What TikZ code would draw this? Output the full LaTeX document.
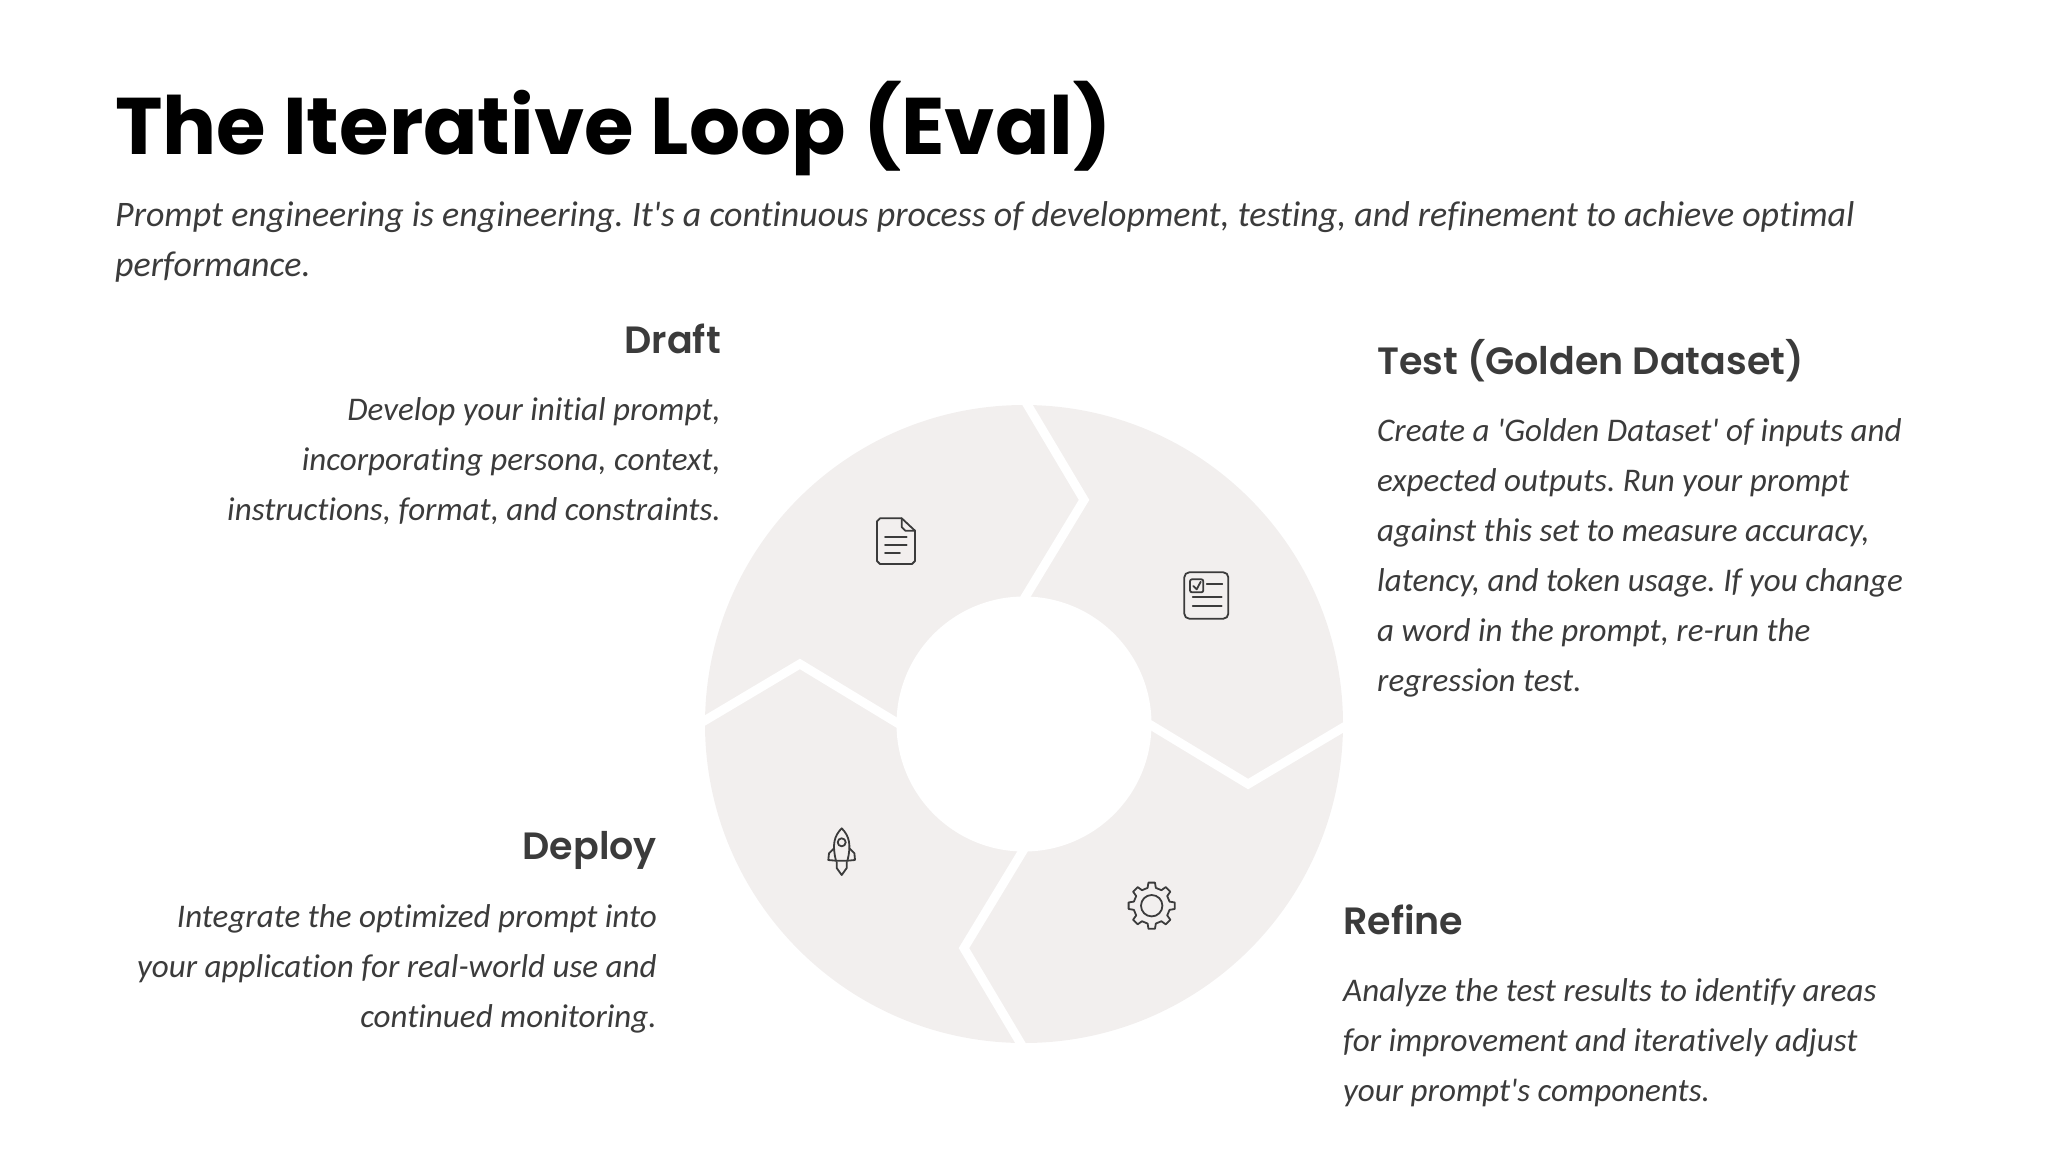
\documentclass[tikz,border=0pt]{standalone}
\usepackage{fontspec}
\setmainfont{Carlito}[Ligatures={TeXOff,NoCommon}]
\newfontfamily\titlefont{Poppins}
\newfontfamily\headfont{Poppins SemiBold}
\usetikzlibrary{positioning}
\definecolor{ringfill}{HTML}{F2EFEE}
\definecolor{inktext}{HTML}{3B3B3B}
\tikzset{
  titletext/.style={anchor=base west, inner sep=0pt, text=black, font=\titlefont\bfseries\fontsize{80.3}{90}\selectfont},
  headtext/.style={inner sep=0pt, text=inktext, font=\headfont\fontsize{38}{44}\selectfont},
  leadtext/.style={inner sep=0pt, text=inktext, font=\itshape\frenchspacing\fontsize{35.9}{50}\selectfont},
  bodytext/.style={inner sep=0pt, text=inktext, font=\itshape\frenchspacing\fontsize{33.05}{50}\selectfont},
  icon/.style={draw=inktext, line width=1.8pt, line join=round, line cap=round}
}
\begin{document}
\begin{tikzpicture}[x=1pt,y=-1pt]
            \useasboundingbox (0,0) rectangle (2048,1152);

            % the heading
            \node[titletext] (title) at (115,154) {The Iterative Loop (Eval)};
            \node[leadtext, anchor=north west, align=left] (subtitle) at (115,201) {Prompt engineering is engineering. It's a continuous process of development, testing, and refinement to achieve optimal\\performance.};

            % the ring with its four arrow shaped gaps
            \coordinate (hub) at (1024,724);
            \fill[ringfill] (hub) circle [radius=319pt];
            \foreach \a in {0,90,180,270}
              \draw[white, line width=9pt, miter limit=10] (hub) +(\a:325pt) -- +(\a-15:232pt) -- +(\a:125pt);
            \fill[white] (hub) circle [radius=127.5pt];

            % the document icon
            \draw[icon] (901.7,518.3) -- (880,518.3) -- ++(-3,3) -- (877,561) -- ++(3,3) -- (912,564) -- ++(3,-3) -- (915,530.7) -- cycle;
            \draw[icon] (901.7,518.3) -- (901.7,527) -- ++(3.7,3.7) -- (915,530.7);
            \foreach \y/\e in {537.3/906.7,545/906.7,552.7/900}
              \draw[icon] (885,\y) -- (\e,\y);

            % the checklist icon
            \draw[icon, rounded corners=5pt] (1184.3,572.3) rectangle (1228.3,618.7);
            \draw[icon, rounded corners=2pt] (1190,579.3) rectangle (1203.3,592.3);
            \draw[icon] (1193.3,586) -- (1196.7,589.3) -- (1200.7,581.7);
            \draw[icon] (1206.7,584) -- (1222.3,584);
            \foreach \y in {597.3,606}
              \draw[icon] (1192.7,\y) -- (1221.7,\y);

            % the gear icon
            \coordinate (gear) at (1151.7,905.7);
            \draw[icon] (gear) circle [radius=10.7pt];
            \draw[icon] ([shift={(-13:18.3pt)}]gear)
              \foreach \a in {0,45,...,315} {
                -- ([shift={(\a-8:23.3pt)}]gear) -- ([shift={(\a+8:23.3pt)}]gear)
                -- ([shift={(\a+13:18.3pt)}]gear) -- ([shift={(\a+32:18.3pt)}]gear)
              } -- cycle;

            % the rocket icon
            \draw[icon] (836,860.7) .. controls (832,845) and (834,836) .. (841.7,828.3)
              .. controls (849.4,836) and (851.4,845) .. (847.4,860.7) -- cycle;
            \draw[icon] (841.7,842.3) circle [radius=4pt];
            \draw[icon] (834,848.3) -- (829,853.3) -- (828.3,860) -- (836,860.7);
            \draw[icon] (849.4,848.3) -- (854.4,853.3) -- (855,860) -- (847.4,860.7);
            \draw[icon] (836.7,862) -- (836.7,868) -- (841.7,875) -- (846.7,868) -- (846.7,862);

            % the four steps
            \node[headtext, anchor=base east] (draft) at (721,353) {Draft};
            \node[bodytext, anchor=north east, align=right] (draftbody) at (721,397) {Develop your initial prompt,\\incorporating persona, context,\\instructions, format, and constraints.};

            \node[headtext, anchor=base west] (test) at (1377,374) {Test (Golden Dataset)};
            \node[bodytext, anchor=north west, align=left] (testbody) at (1377,418) {Create a 'Golden Dataset' of inputs and\\expected outputs. Run your prompt\\against this set to measure accuracy,\\latency, and token usage. If you change\\a word in the prompt, re-run the\\regression test.};

            \node[headtext, anchor=base east] (deploy) at (657,859) {Deploy};
            \node[bodytext, anchor=north east, align=right] (deploybody) at (657,904) {Integrate the optimized prompt into\\your application for real-world use and\\continued monitoring.};

            \node[headtext, anchor=base west] (refine) at (1343,934) {Refine};
            \node[bodytext, anchor=north west, align=left] (refinebody) at (1343,978) {Analyze the test results to identify areas\\for improvement and iteratively adjust\\your prompt's components.};
        \end{tikzpicture}
\end{document}
